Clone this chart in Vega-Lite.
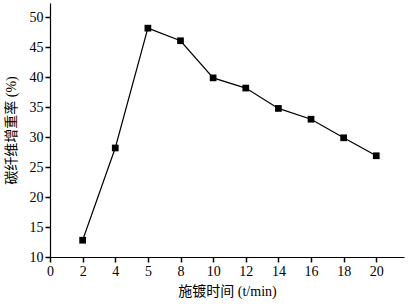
{
  "$schema": "https://vega.github.io/schema/vega-lite/v6.json",
  "width": 354,
  "height": 254,
  "padding": {"left": 50, "top": 3, "right": 5, "bottom": 47},
  "autosize": {"type": "none"},
  "background": "white",
  "config": {
    "view": {"stroke": null},
    "axis": {
      "labelFont": "Liberation Serif",
      "titleFont": "Liberation Serif, Noto Sans CJK SC",
      "labelFontSize": 14,
      "titleFontSize": 14,
      "labelColor": "black",
      "titleColor": "black",
      "domainColor": "black",
      "tickColor": "black",
      "grid": false,
      "titleFontWeight": "normal"
    }
  },
  "data": {
    "values": [
      {"t": 2, "rate": 12.8},
      {"t": 4, "rate": 28.2},
      {"t": 6, "rate": 48.2},
      {"t": 8, "rate": 46.1},
      {"t": 10, "rate": 39.9},
      {"t": 12, "rate": 38.2},
      {"t": 14, "rate": 34.8},
      {"t": 16, "rate": 33.0},
      {"t": 18, "rate": 29.9},
      {"t": 20, "rate": 26.9}
    ]
  },
  "encoding": {
    "x": {
      "field": "t", "type": "quantitative",
      "scale": {"domain": [0, 21.7], "nice": false, "zero": false},
      "axis": {
        "values": [0, 2, 4, 6, 8, 10, 12, 14, 16, 18, 20],
        "labelExpr": "datum.value == 6 ? '5' : datum.label",
        "title": "施镀时间  (t/min)",
        "ticks": true,
        "tickSize": 5,
        "tickWidth": 1.5,
        "domainWidth": 1.2,
        "labelPadding": 2,
        "titlePadding": 6,
        "labelFlush": false
      }
    },
    "y": {
      "field": "rate", "type": "quantitative",
      "scale": {"domain": [10, 52.4], "nice": false, "zero": false},
      "axis": {
        "values": [10, 15, 20, 25, 30, 35, 40, 45, 50],
        "title": "碳纤维增重率  (%)",
        "ticks": true,
        "tickSize": 5,
        "tickWidth": 1.5,
        "domainWidth": 1.2,
        "labelPadding": 2,
        "titlePadding": 11,
        "labelFlush": false
      }
    }
  },
  "layer": [
    {"mark": {"type": "line", "color": "black", "strokeWidth": 1.2}},
    {"mark": {"type": "square", "color": "black", "size": 45, "opacity": 1, "filled": true}}
  ]
}
